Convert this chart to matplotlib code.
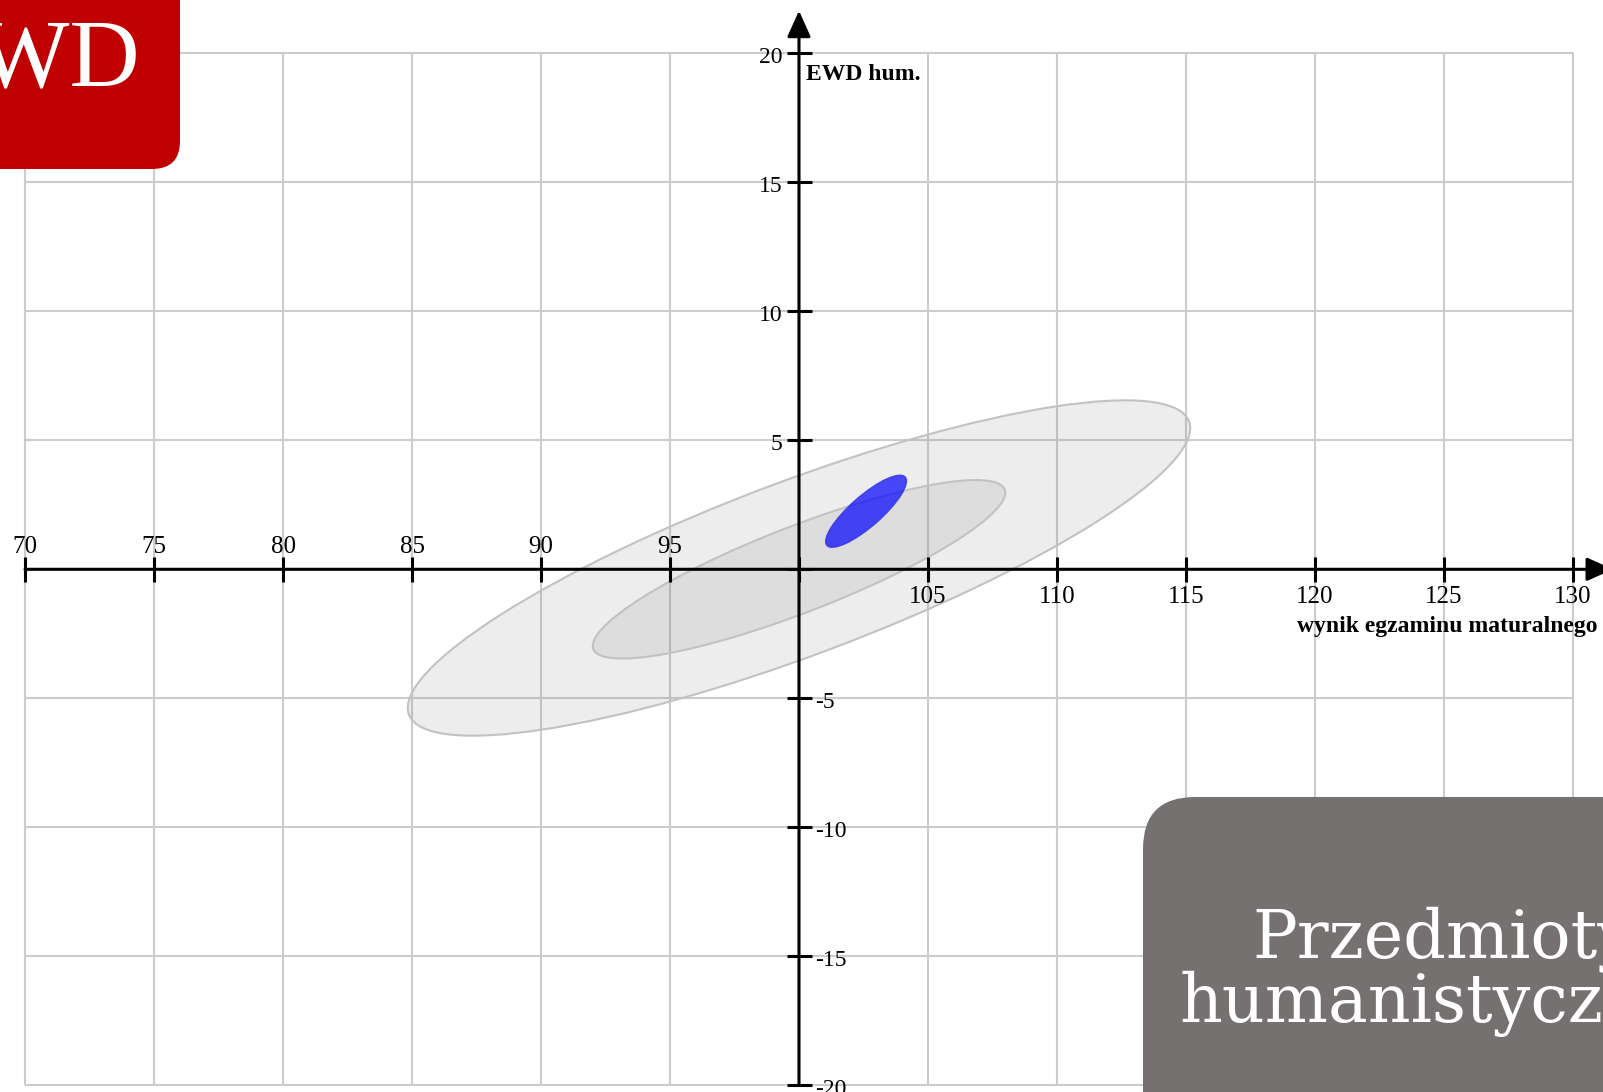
import matplotlib
matplotlib.use("Agg")
import matplotlib.pyplot as plt
from matplotlib.patches import Ellipse, FancyBboxPatch
import numpy as np

# data
x_ticks = [70, 75, 80, 85, 90, 95, 100, 105, 110, 115, 120, 125, 130]
y_ticks = [-20, -15, -10, -5, 0, 5, 10, 15, 20]
x_labels_up = [70, 75, 80, 85, 90, 95]
x_labels_down = [105, 110, 115, 120, 125, 130]
y_labels_left = [20, 15, 10, 5]
y_labels_right = [-5, -10, -15, -20]

# confidence ellipses: centre, width, height, angle
ell_cx = [100.0, 100.0, 102.6]
ell_cy = [0.05, 0.0, 2.25]
ell_w = [32.3, 17.1, 4.03]
ell_h = [6.74, 3.33, 1.19]
ell_ang = [20.6, 21.2, 41.1]

x_title = "wynik egzaminu maturalnego"
y_title = "EWD hum."
box_title = ["Przedmioty", "humanistyczne"]

W, H = 1603, 1092
u = 5 / 129.0          # data units per pixel
x0_px, y0_px = 25, 569.3  # pixel of (70, 0)

fig = plt.figure(figsize=(W / 100, H / 100), dpi=100)
ax = fig.add_axes([0, 0, 1, 1])
ax.set_xlim(70 - x0_px * u, 70 + (W - x0_px) * u)
ax.set_ylim(-(H - y0_px) * u, y0_px * u)
ax.axis("off")

serif = "Liberation Serif"

# grid
ax.vlines(x_ticks, -20, 20, color="#cccccc", lw=1.5, zorder=1)
ax.hlines(y_ticks, 70, 130, color="#cccccc", lw=1.5, zorder=1)

# ellipses
for i in range(2):
    ax.add_patch(Ellipse((ell_cx[i], ell_cy[i]), ell_w[i], ell_h[i], angle=ell_ang[i],
                         facecolor=(0.5, 0.5, 0.5, 0.14), edgecolor="#c2c2c2", lw=1.5, zorder=2))
ax.add_patch(Ellipse((ell_cx[2], ell_cy[2]), ell_w[2], ell_h[2], angle=ell_ang[2],
                     facecolor=(0.0, 0.0, 1.0, 0.7), edgecolor=(0.2, 0.2, 0.9, 0.8), lw=1, zorder=3))

# axes with arrows
arr = dict(arrowstyle="-|>,head_length=1.0,head_width=0.45", mutation_scale=16,
           color="black", lw=2.2, shrinkA=0, shrinkB=0)
ax.annotate("", xy=(131.55, 0), xytext=(70, 0), arrowprops=arr, zorder=4, annotation_clip=False)
ax.annotate("", xy=(100, 21.65), xytext=(100, -20), arrowprops=arr, zorder=4, annotation_clip=False)

# tick marks
ax.plot(x_ticks, np.zeros(len(x_ticks)), ls="none", marker="|", ms=18, mew=2.2, color="black", zorder=4)
ax.plot(np.full(len(y_ticks), 100), y_ticks, ls="none", marker="_", ms=18, mew=2.2, color="black", zorder=4)

# tick labels
fs = 18
for v in x_labels_up:
    ax.annotate(str(v), (v, 0), xytext=(0, 11.5), textcoords="offset points",
                ha="center", va="baseline", fontsize=fs, family=serif)
for v in x_labels_down:
    ax.annotate(str(v), (v, 0), xytext=(0, -24.3), textcoords="offset points",
                ha="center", va="baseline", fontsize=fs, family=serif)
for v in y_labels_left:
    ax.annotate(str(v), (100, v), xytext=(-12.2, -6.9), textcoords="offset points",
                ha="right", va="baseline", fontsize=fs - 1, family=serif)
for v in y_labels_right:
    ax.annotate(str(v), (100, v), xytext=(11.5, -6.7), textcoords="offset points",
                ha="left", va="baseline", fontsize=fs - 1, family=serif)

# axis titles
ax.annotate(y_title, (100, 20), xytext=(5, -18.9), textcoords="offset points",
            ha="left", va="baseline", fontsize=17, fontweight="bold", family=serif)
ax.annotate(x_title, (130, 0), xytext=(17.3, -45), textcoords="offset points",
            ha="right", va="baseline", fontsize=17, fontweight="bold", family=serif)

# overlay in pixel coordinates for the logo boxes
ov = fig.add_axes([0, 0, 1, 1], zorder=5)
ov.set_xlim(0, W)
ov.set_ylim(H, 0)
ov.axis("off")
ov.patch.set_alpha(0)

ov.add_patch(FancyBboxPatch((-200, -200), 380, 369, boxstyle="round,pad=0,rounding_size=28",
                            facecolor="#c00000", edgecolor="none"))
ov.text(140, 86, "EWD", color="white", fontsize=70, family=serif, ha="right", va="baseline")

ov.add_patch(FancyBboxPatch((1143, 797), 700, 500, boxstyle="round,pad=0,rounding_size=52",
                            facecolor="#757170", edgecolor="none"))
ov.text(1252, 958, box_title[0], color="white", fontsize=48, family="DejaVu Serif",
        ha="left", va="baseline")
ov.text(1180, 1022, box_title[1], color="white", fontsize=48, family="DejaVu Serif",
        ha="left", va="baseline")

fig.savefig("out.png", dpi=100)
